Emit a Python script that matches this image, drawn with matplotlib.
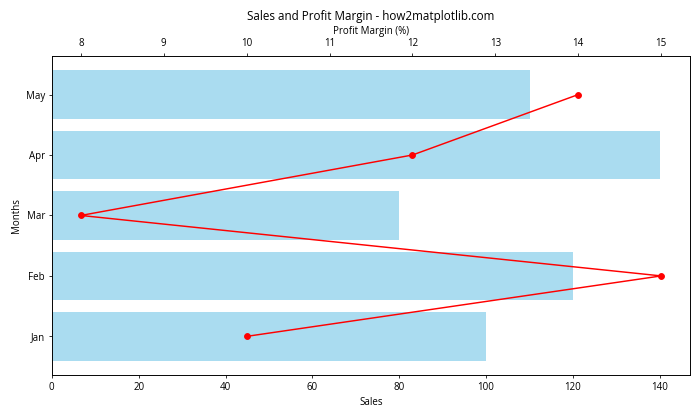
import matplotlib.pyplot as plt

plt.rcParams['font.family'] = ['Open Sans', 'DejaVu Sans']

months = ['Jan', 'Feb', 'Mar', 'Apr', 'May']
sales = [100, 120, 80, 140, 110]
profit_margin = [10, 15, 8, 12, 14]

fig, ax1 = plt.subplots(figsize=(10, 6), dpi=70)

# Bars for sales
ax1.barh(months, sales, color='skyblue', alpha=0.7)
ax1.set_xlabel('Sales')
ax1.set_ylabel('Months')

# Profit margin on a second x axis
ax2 = ax1.twiny()
ax2.plot(profit_margin, months, color='red', marker='o')
ax2.set_xlabel('Profit Margin (%)')

ax1.set_title('Sales and Profit Margin - how2matplotlib.com')
plt.tight_layout()
plt.subplots_adjust(left=0.074, right=0.986, top=0.867, bottom=0.107)
plt.savefig('out.png')
